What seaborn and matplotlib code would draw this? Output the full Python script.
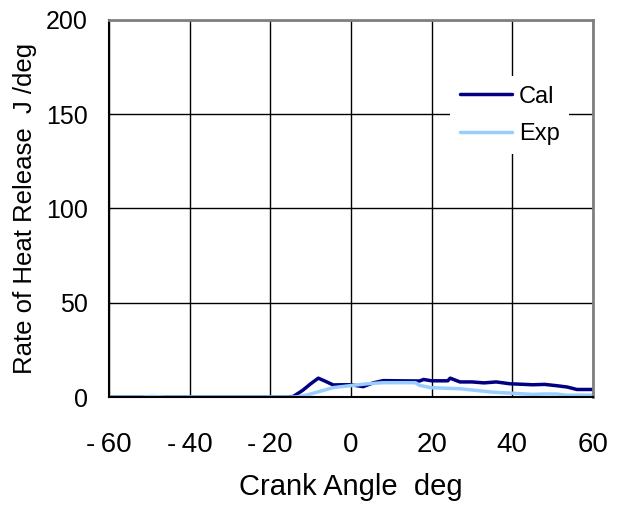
import numpy as np
import pandas as pd
import matplotlib
matplotlib.use("Agg")
import matplotlib.pyplot as plt
import seaborn as sns

# Crank angle (deg) and rate of heat release (J/deg)
cal_angle = [-60, -50, -40, -30, -20, -16, -14.3, -12, -10, -8.1, -6.5, -4.4, -2, 0, 3, 5.5, 8, 12, 17, 18, 20, 24, 24.6, 27, 30, 33, 36, 39.5, 42, 45, 48, 51, 53.6, 56, 60]
cal_hrr = [0, 0, 0, 0, 0, 0, 0.3, 3.5, 7.0, 10.0, 8.5, 6.4, 6.5, 6.5, 5.5, 7.5, 8.7, 8.6, 8.5, 9.3, 8.6, 8.6, 10.0, 8.0, 8.0, 7.5, 8.0, 7.0, 6.8, 6.5, 6.7, 6.0, 5.3, 4.0, 4.0]

exp_angle = [-60, -52, -49.3, -46, -40, -30, -20, -14, -12.6, -10, -8.4, -4.4, 0.5, 4, 8, 12, 16, 17, 19.7, 23, 27, 31, 35, 40, 45, 48, 51, 53.6, 57, 60]
exp_hrr = [0, 0, 0.3, 0, 0, 0, 0, 0, 0.3, 1.6, 2.6, 5.0, 6.2, 7.0, 7.6, 7.6, 7.6, 6.2, 5.0, 4.7, 4.4, 3.5, 2.6, 2.0, 1.4, 1.6, 1.6, 0.9, 1.0, 0.9]

x_ticks = [-60, -40, -20, 0, 20, 40, 60]
x_tick_labels = ["-\u200960", "-\u200940", "-\u200920", "0", "20", "40", "60"]
y_ticks = [0, 50, 100, 150, 200]

df = pd.concat([
    pd.DataFrame({"angle": cal_angle, "hrr": cal_hrr, "series": "Cal"}),
    pd.DataFrame({"angle": exp_angle, "hrr": exp_hrr, "series": "Exp"}),
], ignore_index=True)

sns.set_style("white")
plt.rcParams["font.family"] = ["Liberation Sans", "DejaVu Sans"]
plt.rcParams["text.color"] = "black"
plt.rcParams["axes.labelcolor"] = "black"

fig = plt.figure(figsize=(6.19, 5.09), dpi=100)
ax = fig.add_axes([0.176, 0.22, 0.782, 0.741])

sns.lineplot(data=df, x="angle", y="hrr", hue="series",
             palette={"Cal": "#000080", "Exp": "#99CCFF"},
             linewidth=2.5, ax=ax, estimator=None, sort=False)

ax.set_xlim(-60, 60)
ax.set_ylim(0, 200)
ax.set_xticks(x_ticks)
ax.set_xticklabels(x_tick_labels)
ax.set_yticks(y_ticks)
ax.grid(True, color="black", linewidth=1.0)
ax.set_axisbelow(True)

for side in ["left", "bottom"]:
    ax.spines[side].set_color("black")
    ax.spines[side].set_linewidth(1.5)
for side in ["top", "right"]:
    ax.spines[side].set_color("#808080")
    ax.spines[side].set_linewidth(2)

ax.tick_params(axis="x", labelsize=20, labelcolor="black", length=0, pad=25)
ax.tick_params(axis="y", labelsize=18, labelcolor="black", length=0, pad=15)
ax.set_xlabel("Crank Angle  deg", fontsize=21, labelpad=11)
ax.set_ylabel("Rate of Heat Release  J /deg", fontsize=18.5, labelpad=7)

leg = ax.legend(loc="center", bbox_to_anchor=(0.828, 0.747), fontsize=17,
                frameon=True, facecolor="white", edgecolor="none",
                framealpha=1, fancybox=False, handlelength=2.2,
                handletextpad=0.3, labelspacing=0.65, borderpad=0.4)
for line in leg.get_lines():
    line.set_linewidth(2.5)

fig.savefig("out.png", dpi=100)
